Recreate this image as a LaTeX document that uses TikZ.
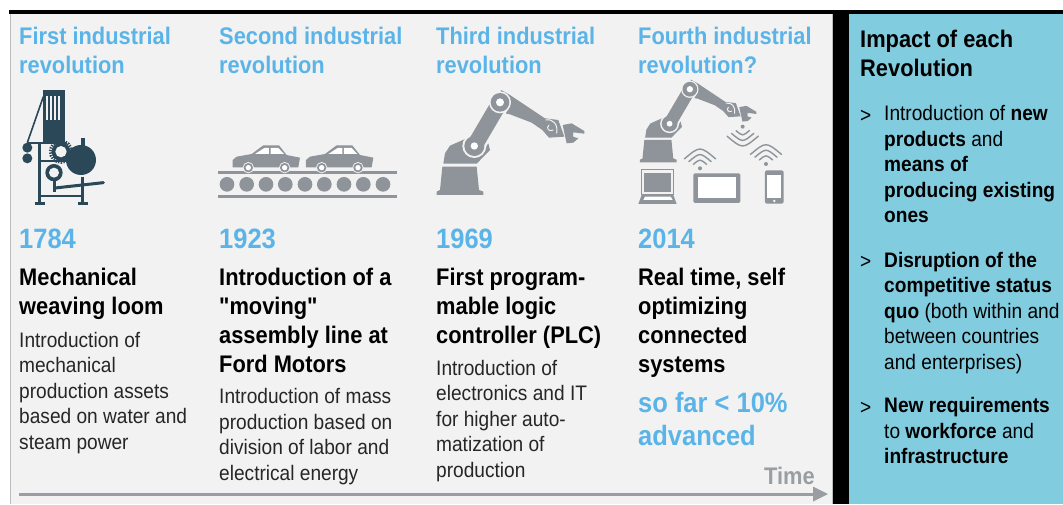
\documentclass[tikz,border=0pt]{standalone}
\usepackage{fontspec}
\setmainfont[FakeStretch=0.91,BoldFont={Liberation Sans Bold}]{Liberation Sans}
\newfontfamily\plainquote[FakeStretch=0.91,BoldFont={Liberation Sans Bold}]{Liberation Sans}
\definecolor{panelgray}{HTML}{F2F2F2}
\definecolor{panelline}{HTML}{B9BDC0}
\definecolor{tealpanel}{HTML}{82CCDF}
\definecolor{bluetext}{HTML}{5BB4E8}
\definecolor{iconblue}{HTML}{2A4858}
\definecolor{icongray}{HTML}{8E9499}
\definecolor{timegray}{HTML}{9A9EA3}
\tikzset{
  txt/.style={anchor=north west,inner sep=0pt,align=left,execute at begin node=\strut},
  titletxt/.style={txt,text=bluetext,font=\fontsize{24}{29}\selectfont\bfseries},
  yeartxt/.style={txt,text=bluetext,font=\fontsize{28}{33}\selectfont\bfseries},
  headtxt/.style={txt,text=black,font=\fontsize{24}{29}\selectfont\bfseries},
  bodytxt/.style={txt,text=black!85,font=\fontsize{21}{25.4}\selectfont},
  bullettxt/.style={txt,text=black,font=\fontsize{21}{25.5}\selectfont},
  wave/.style={draw=icongray,line width=1.4pt,line cap=round},
}
\newcommand{\wifisig}[3]{% x y direction
  \foreach \rr in {22,37,52}{
    \draw[wave] (#1-\rr*.9,#2-#3*\rr*.55) .. controls (#1,#2-#3*\rr*1.3) .. (#1+\rr*.9,#2-#3*\rr*.55);
  }
  \fill[icongray] (#1,#2) circle[radius=2pt];
}
\newcommand{\robotarm}[2]{%
  \fill[icongray] (52,275)--(155,275)--(162,345)--(175,350)--(175,360)--(35,360)--(35,350)--(45,345)--cycle;
  \fill[icongray] (55,266)--(60,235)--(75,212)--(125,190)--(190,205)--(195,225)--(155,266)--cycle;
  \fill[icongray] (228,45)--(255,60)--(360,130)--(400,135)--(418,185)--(372,188)--(352,165)--(320,143)--(255,118)--(225,112)--cycle;
  \fill[panelgray] (148,213) circle[radius=36];
  \draw[panelgray,line width=#2pt] (148,213)--(225,82);
  \draw[icongray,line width=#1pt] (148,213)--(225,82);
  \fill[panelgray] (225,82) circle[radius=33];
  \fill[icongray] (148,213) circle[radius=30];
  \fill[icongray] (225,82) circle[radius=28];
  \fill[white] (148,213) circle[radius=11];
  \fill[white] (225,82) circle[radius=12];
  \draw[panelgray,line width=1pt] (362,135) .. controls (385,130) and (400,150) .. (395,175);
  \draw[panelgray,line width=1pt] (372,150) .. controls (362,160) and (372,172) .. (385,165);
  \fill[icongray] (413,150)--(440,145)--(478,168)--(478,176)--(445,172)--(444,185)--(460,190)--(445,203)--(425,205)--cycle;
}
\begin{document}
\begin{tikzpicture}[x=1pt,y=-1pt]
\useasboundingbox (0,0) rectangle (1063,504);
\fill[white] (0,0) rectangle (1063,504);
% panels
\fill[panelgray] (10,14) rectangle (833,504);
\draw[panelline,line width=.8pt] (10,14)--(10,504);
\draw[panelline,line width=.8pt] (832.6,14)--(832.6,504);
\fill[black] (9,10) rectangle (1063,14);
\fill[black] (833,10) rectangle (849,504);
\fill[tealpanel] (849,14) rectangle (1063,504);

% titles
\node[titletxt] (t1) at (19,27) {First industrial\\revolution};
\node[titletxt] (t2) at (219,27) {Second industrial\\revolution};
\node[titletxt] (t3) at (436,27) {Third industrial\\revolution};
\node[titletxt] (t4) at (638,27) {Fourth industrial\\revolution?};
% years
\node[yeartxt] (y1) at (19,225) {1784};
\node[yeartxt] (y2) at (219,225) {1923};
\node[yeartxt] (y3) at (436,225) {1969};
\node[yeartxt] (y4) at (638,225) {2014};
% headings
\node[headtxt] (h1) at (19,268) {Mechanical\\weaving loom};
\node[headtxt] (h2) at (219,268) {Introduction of a\\{\plainquote\bfseries "moving"}\\assembly line at\\Ford Motors};
\node[headtxt] (h3) at (436,268) {First program-\\mable logic\\controller (PLC)};
\node[headtxt] (h4) at (638,268) {Real time, self\\optimizing\\connected\\systems};
% bodies
\node[bodytxt] (b1) at (19,332) {Introduction of\\mechanical\\production assets\\based on water and\\steam power};
\node[bodytxt] (b2) at (219,388.5) {Introduction of mass\\production based on\\division of labor and\\electrical energy};
\node[bodytxt] (b3) at (436,360) {Introduction of\\electronics and IT\\for higher auto-\\matization of\\production};
\node[yeartxt] (b4) at (638,392) {so far < 10\%\\advanced};
% time
\node[txt,text=timegray,font=\fontsize{24}{29}\selectfont\bfseries] (time) at (764,464) {Time};
\coordinate (arrowstart) at (19,494);
\coordinate (arrowend) at (828,494);
\fill[timegray] (813,486.5)--(arrowend)--(813,501.5)--cycle;
\draw[timegray,line width=3pt] (arrowstart)--(814,494);

% right panel
\node[headtxt] (impact) at (860,30) {Impact of each\\Revolution};
\node[bullettxt] (m1) at (860,104) {>};
\node[bullettxt] (m2) at (860,250.5) {>};
\node[bullettxt] (m3) at (860,396) {>};
\node[bullettxt] (p1) at (884,105.5) {Introduction of \textbf{new}\\\textbf{products} and\\\textbf{means of}\\\textbf{producing existing}\\\textbf{ones}};
\node[bullettxt] (p2) at (884,252) {\textbf{Disruption of the}\\\textbf{competitive status}\\\textbf{quo} (both within and\\between countries\\and enterprises)};
\node[bullettxt] (p3) at (884,397.5) {\textbf{New requirements}\\to \textbf{workforce} and\\\textbf{infrastructure}};

% loom icon
\begin{scope}[shift={(0,70)},x=.3333pt,y=-.3333pt]
  \fill[iconblue] (128,60) rectangle (195,215);
  \foreach \sx in {138,150,162,174}{\fill[panelgray] (\sx,78) rectangle (\sx+7,150);}
  \draw[iconblue,line width=1.6pt] (130,80)--(82,218);
  \draw[iconblue,line width=2pt] (82,218)--(200,218);
  \fill[iconblue] (82,233) circle[radius=15];
  \fill[iconblue] (82,265) circle[radius=15];
  \draw[iconblue,line width=2.8pt] (118,218)--(118,398);
  \draw[iconblue,line width=2.8pt] (247,320)--(247,398);
  \draw[iconblue,line width=2pt] (118,378)--(247,378);
  \draw[iconblue,line width=2pt] (118,272)--(205,272);
  \draw[iconblue,line width=2.4pt] (104,400)--(134,400);
  \draw[iconblue,line width=2.4pt] (233,400)--(263,400);
  \draw[iconblue,line width=3pt,dash pattern=on 1.3pt off 1.3pt] (183,245) circle[radius=32];
  \fill[iconblue] (183,245) circle[radius=28];
  \fill[panelgray] (183,245) circle[radius=17];
  \fill[iconblue] (243,270) circle[radius=45];
  \draw[iconblue,line width=4pt] (248,205)--(248,235);
  \fill[iconblue] (162,308) circle[radius=26];
  \fill[panelgray] (162,308) circle[radius=15];
  \draw[iconblue,line width=3pt] (165,330)--(165,365);
  \draw[iconblue,line width=3pt,line cap=round] (165,354)--(310,338);
\end{scope}

% conveyor icon
\begin{scope}[shift={(210,80)},x=.3333pt,y=-.3333pt]
  \fill[icongray] (25,274) rectangle (560,283);
  \fill[icongray] (25,344) rectangle (560,353);
  \foreach \cx in {51,110,168,226,285,343,402,460,519}{\fill[icongray] (\cx,313) circle[radius=22];}
  \foreach \dx in {0,220}{
    \begin{scope}[shift={(\dx,0)}]
      \fill[icongray] (68,262)--(68,240)--(80,230)--(125,222)--(160,196)--(207,196)--(230,225)--(270,233)--(265,262)--cycle;
      \fill[white] (135,222)--(163,204)--(177,204)--(177,222)--cycle;
      \fill[white] (182,204)--(205,204)--(222,222)--(182,222)--cycle;
      \foreach \wx in {115,224}{
        \fill[panelgray] (\wx,263) circle[radius=17];
        \fill[icongray] (\wx,263) circle[radius=14];
        \fill[white] (\wx,263) circle[radius=8];
      }
    \end{scope}
  }
\end{scope}

% robot icon
\begin{scope}[shift={(425,75)},x=.3333pt,y=-.3333pt]
  \robotarm{16}{21}
\end{scope}

% connected robot icon
\begin{scope}[shift={(630,75)},x=.3333pt,y=-.3333pt]
  \begin{scope}[shift={(2,-22)},x=.263pt,y=-.263pt]
    \robotarm{12.5}{16.5}
  \end{scope}
  \wifisig{338}{155}{-1}
  \wifisig{210}{280}{1}
  \wifisig{408}{267}{1}
  % laptop
  \draw[icongray,line width=1pt] (35,283) rectangle (130,360);
  \fill[icongray] (43,293) rectangle (122,352);
  \fill[icongray] (35,360)--(130,360)--(140,387)--(25,387)--cycle;
  \fill[white] (45,365)--(122,365)--(128,375)--(40,375)--cycle;
  % tablet
  \fill[icongray,rounded corners=1.5pt] (190,295) rectangle (331,384);
  \fill[white] (203,305) rectangle (318,370);
  % phone
  \fill[icongray,rounded corners=2pt] (405,286) rectangle (461,386);
  \fill[white] (412,300) rectangle (453,370);
  \fill[white] (433,378) circle[radius=4];
\end{scope}
\end{tikzpicture}
\end{document}
